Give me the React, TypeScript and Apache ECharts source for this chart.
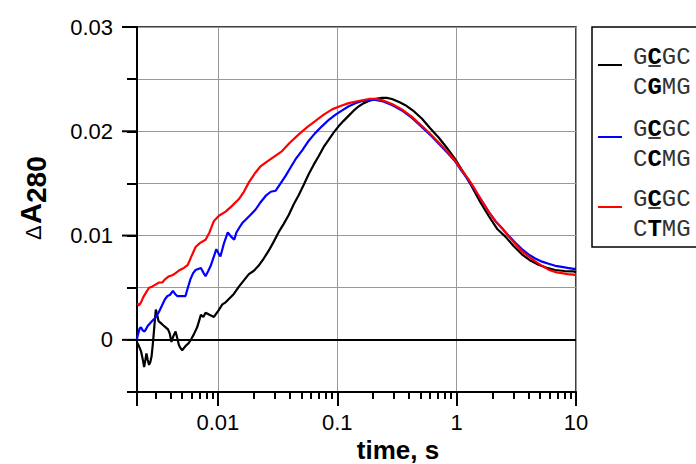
import React, { useEffect, useRef } from "react";
import * as echarts from "echarts";

// ---- data (time in s, ΔA280) ----
const tBlack = [0.00209,0.00218,0.00227,0.00234,0.00241,0.00247,0.00252,0.00258,0.00265,0.00272,0.00278,0.00285,0.0029,0.00296,0.00302,0.0031,0.00318,0.00333,0.00348,0.00365,0.00382,0.00395,0.00408,0.00425,0.00442,0.00456,0.00471,0.00487,0.00502,0.00535,0.0057,0.006,0.00627,0.0067,0.0072,0.00755,0.00788,0.0085,0.00926,0.0101,0.0109,0.0116,0.0123,0.0136,0.015,0.0165,0.01817,0.0199,0.0219,0.0242,0.0265,0.029,0.0322,0.0355,0.0393,0.0432,0.0476,0.0525,0.0577,0.0635,0.0698,0.077,0.0849,0.0935,0.1029,0.113,0.1248,0.1377,0.1516,0.167,0.1836,0.21,0.237,0.26,0.287,0.33,0.372,0.44,0.513,0.6,0.707,0.83,0.975,1.15,1.34,1.58,1.85,2.2,2.56,3.0,3.52,4.15,4.85,5.7,6.7,8.0,9.53,10];
const aBlack = [-0.0002,-0.0006,-0.0011,-0.0018,-0.0026,-0.0019,-0.0013,-0.0019,-0.0024,-0.0021,-0.0016,-0.0004,0.0006,0.0018,0.0029,0.0024,0.0018,0.0016,0.0014,0.0012,0.001,0.0006,-0.0002,0.0004,0.0008,0.0002,-0.0005,-0.0008,-0.001,-0.0006,-0.0003,0.0001,0.0005,0.0012,0.0024,0.0022,0.0026,0.0024,0.0022,0.0028,0.0034,0.0036,0.0039,0.0044,0.0051,0.0057,0.0063,0.0066,0.0071,0.0078,0.0085,0.0093,0.0103,0.0111,0.012,0.013,0.0139,0.0149,0.0159,0.0168,0.0176,0.0185,0.0192,0.0199,0.0205,0.021,0.0215,0.022,0.0224,0.0227,0.0229,0.0231,0.0232,0.0232,0.0231,0.0228,0.0225,0.0219,0.0212,0.0203,0.0194,0.0184,0.0173,0.016,0.0147,0.0132,0.0119,0.0106,0.0099,0.009,0.0082,0.0076,0.0072,0.0069,0.0067,0.0066,0.00657,0.0065];

const tBlue = [0.00209,0.00215,0.00221,0.00227,0.00235,0.00243,0.00249,0.00257,0.00266,0.00281,0.00298,0.00318,0.0034,0.0036,0.00378,0.00396,0.0042,0.00438,0.00456,0.0049,0.00535,0.0056,0.00588,0.0062,0.0065,0.0072,0.0076,0.00788,0.0083,0.0087,0.0092,0.0097,0.0101,0.0105,0.0112,0.0121,0.0129,0.0137,0.0143,0.015,0.016,0.017,0.0188,0.0207,0.0228,0.0251,0.0277,0.0305,0.0335,0.0368,0.0405,0.0446,0.051,0.0577,0.065,0.0747,0.085,0.0968,0.11,0.1248,0.142,0.1615,0.185,0.209,0.237,0.29,0.348,0.42,0.513,0.62,0.753,0.86,0.975,1.1,1.26,1.43,1.63,1.85,2.11,2.4,2.72,3.1,3.52,4.0,4.55,5.2,5.89,6.7,7.6,8.5,9.53,10];
const aBlue = [0.0,0.0006,0.0011,0.0012,0.0009,0.0008,0.001,0.0013,0.0015,0.0018,0.0021,0.0026,0.0033,0.0039,0.0042,0.0043,0.0047,0.0044,0.0042,0.0042,0.0042,0.005,0.0058,0.0064,0.0067,0.0069,0.0064,0.0061,0.0066,0.0071,0.0079,0.0087,0.0083,0.008,0.0092,0.0103,0.0099,0.0096,0.0103,0.0107,0.0112,0.0115,0.012,0.0125,0.0132,0.0138,0.0142,0.0143,0.015,0.0157,0.0165,0.0173,0.0182,0.0191,0.0198,0.0205,0.0211,0.0216,0.022,0.0224,0.0227,0.0229,0.023,0.023,0.0229,0.0225,0.022,0.0213,0.0204,0.0195,0.0185,0.0178,0.0171,0.0162,0.0153,0.0143,0.0133,0.0123,0.0114,0.0107,0.01,0.0093,0.0087,0.0082,0.0078,0.0075,0.0073,0.0071,0.007,0.0069,0.0068,0.0068];

const tRed = [0.00211,0.00218,0.00227,0.00237,0.00249,0.00265,0.0028,0.003,0.00322,0.00342,0.0036,0.0039,0.00415,0.00442,0.0048,0.00519,0.0056,0.006,0.0065,0.0071,0.00788,0.0085,0.00926,0.0102,0.0116,0.013,0.015,0.0165,0.01817,0.0205,0.0226,0.0251,0.029,0.0345,0.04,0.0476,0.056,0.0657,0.077,0.0906,0.105,0.1248,0.15,0.1836,0.21,0.237,0.29,0.348,0.42,0.513,0.62,0.753,0.86,0.975,1.1,1.26,1.43,1.63,1.85,2.11,2.4,2.72,3.1,3.52,4.0,4.55,5.2,5.89,6.7,7.6,8.5,9.53,10];
const aRed = [0.0035,0.0033,0.0036,0.0041,0.0045,0.005,0.0051,0.0053,0.0055,0.0055,0.0058,0.0061,0.0062,0.0064,0.0067,0.0069,0.0072,0.008,0.0089,0.0093,0.0096,0.0103,0.0114,0.0119,0.0123,0.0128,0.0135,0.0142,0.0151,0.016,0.0166,0.017,0.0175,0.0181,0.0189,0.0197,0.0204,0.021,0.0216,0.0221,0.0224,0.0227,0.0229,0.0231,0.0231,0.023,0.0226,0.0221,0.0214,0.0205,0.0196,0.0186,0.0179,0.01715,0.0163,0.01538,0.0144,0.0133,0.0123,0.01138,0.0107,0.00994,0.0092,0.00849,0.008,0.00753,0.0071,0.00673,0.0065,0.0064,0.0063,0.00625,0.0062];

// major y ticks (drawn longer than the axis' own minor-length ticks)
const yMajorTicks = [0, 0.01, 0.02, 0.03];

const X_MIN = 0.0021;
const X_MAX = 10;
const Y_MIN = -0.005;
const Y_MAX = 0.03;

// legend entries
const legendEntries = [
  { color: "#000000", top: "G", topBold: "C", topRest: "GC", bot1: "C", botBold: "G", botRest: "MG" },
  { color: "#0000ff", top: "G", topBold: "C", topRest: "GC", bot1: "C", botBold: "C", botRest: "MG" },
  { color: "#ff0000", top: "G", topBold: "C", topRest: "GC", bot1: "C", botBold: "T", botRest: "MG" },
];

const zip = (t: number[], a: number[]) => t.map((v, i) => [v, a[i]]);

export default function App() {
  const ref = useRef<HTMLDivElement>(null);
  useEffect(() => {
    if (!ref.current) return;
    const chart = echarts.init(ref.current, undefined, { renderer: "svg" });

    const lineSeries = (name: string, color: string, data: number[][]) => ({
      name,
      type: "line",
      data,
      showSymbol: false,
      symbol: "none",
      lineStyle: { color, width: 2.2 },
      itemStyle: { color },
      z: 3,
    });

    const option: any = {
      animation: false,
      grid: {
        left: 137,
        top: 27,
        right: 120,
        bottom: 72,
        show: true,
        borderColor: "#000",
        borderWidth: 1.5,
      },
      xAxis: {
        type: "log",
        min: X_MIN,
        max: X_MAX,
        axisLine: { show: true, onZero: false, lineStyle: { color: "#000", width: 2 } },
        axisTick: { show: true, inside: false, length: 14, lineStyle: { color: "#000", width: 2 } },
        minorTick: { show: true, splitNumber: 9, length: 7, lineStyle: { color: "#000", width: 2 } },
        minorSplitLine: { show: false },
        splitLine: { show: true, lineStyle: { color: "#999", width: 1 } },
        axisLabel: {
          color: "#000",
          fontSize: 22,
          fontFamily: "Arial, 'Liberation Sans', sans-serif",
          margin: 19,
          showMinLabel: false,
          formatter: (v: number) => {
            const l = Math.log10(v);
            return Math.abs(l - Math.round(l)) < 1e-6 ? String(+Math.pow(10, Math.round(l)).toPrecision(3)) : "";
          },
        },
      },
      yAxis: {
        type: "value",
        min: Y_MIN,
        max: Y_MAX,
        interval: 0.005,
        axisLine: { show: true, onZero: false, lineStyle: { color: "#000", width: 2 } },
        axisTick: { show: true, inside: false, length: 10, lineStyle: { color: "#000", width: 2 } },
        splitLine: { show: true, lineStyle: { color: "#999", width: 1 } },
        axisLabel: {
          color: "#000",
          fontSize: 22,
          fontFamily: "Arial, 'Liberation Sans', sans-serif",
          margin: 24,
          formatter: (v: number) => {
            const h = v * 100;
            return Math.abs(h - Math.round(h)) < 1e-6 ? String(Math.round(h) / 100) : "";
          },
        },
      },
      series: [
        {
          ...lineSeries("GCGC/CGMG", "#000000", zip(tBlack, aBlack)),
          markLine: {
            silent: true,
            symbol: "none",
            label: { show: false },
            lineStyle: { color: "#000", width: 2, type: "solid" },
            data: [{ yAxis: 0 }],
            z: 2,
          },
        },
        lineSeries("GCGC/CCMG", "#0000ff", zip(tBlue, aBlue)),
        lineSeries("GCGC/CTMG", "#ff0000", zip(tRed, aRed)),
      ],
    };
    chart.setOption(option);

    const graphics: any[] = [];

    // longer major ticks on the y axis, positioned through the chart's own scales
    yMajorTicks.forEach((v) => {
      const p = chart.convertToPixel({ xAxisIndex: 0, yAxisIndex: 0 }, [X_MIN, v]) as number[];
      graphics.push({
        type: "rect",
        z: 100,
        shape: { x: p[0] - 15, y: p[1] - 1, width: 15, height: 2 },
        style: { fill: "#000" },
      });
    });

    // legend
    const monoFont = '"Courier New", "Liberation Mono", monospace';
    const FS = 24;
    const CW = FS * 0.6;
    const LX = 633;
    graphics.push({
      type: "rect",
      shape: { x: 592, y: 27, width: 120, height: 220 },
      style: { fill: "#fff", stroke: "#000", lineWidth: 1.5 },
    });
    legendEntries.forEach((e, i) => {
      const off = [0, 72, 142][i];
      const cy1 = 57 + off;
      const cy2 = 87 + off;
      graphics.push({
        type: "line",
        shape: { x1: 598, y1: 65 + off, x2: 622, y2: 65 + off },
        style: { stroke: e.color, lineWidth: 2 },
      });
      const rich = {
        n: { fontFamily: monoFont, fontSize: FS, fontWeight: "normal", fill: "#333" },
        b: { fontFamily: monoFont, fontSize: FS, fontWeight: "bold", fill: "#000" },
      };
      graphics.push({
        type: "text",
        style: { text: `{n|${e.top}}{b|${e.topBold}}{n|${e.topRest}}`, x: LX, y: cy1, verticalAlign: "middle", align: "left", rich },
      });
      graphics.push({
        type: "text",
        style: { text: `{n|${e.bot1}}{b|${e.botBold}}{n|${e.botRest}}`, x: LX, y: cy2, verticalAlign: "middle", align: "left", rich },
      });
      graphics.push({
        type: "line",
        shape: { x1: LX + CW + 1, y1: cy1 + 9, x2: LX + 2 * CW - 1, y2: cy1 + 9 },
        style: { stroke: "#000", lineWidth: 1.5 },
      });
    });

    // axis titles
    graphics.push({
      type: "text",
      style: {
        text: "time, s",
        x: 398,
        y: 450,
        align: "center",
        verticalAlign: "middle",
        font: "bold 26px Arial, 'Liberation Sans', sans-serif",
        fill: "#000",
      },
    });
    graphics.push({
      type: "group",
      x: 40,
      y: 240,
      rotation: Math.PI / 2,
      children: [
        { type: "text", style: { text: "Δ", x: 0, y: -7, align: "left", verticalAlign: "middle", font: "normal 22px Arial, 'Liberation Sans', sans-serif", fill: "#000" } },
        { type: "text", style: { text: "A", x: 16, y: -9, align: "left", verticalAlign: "middle", font: "bold 29px Arial, 'Liberation Sans', sans-serif", fill: "#000" } },
        { type: "text", style: { text: "280", x: 37, y: -4, align: "left", verticalAlign: "middle", font: "bold 28px Arial, 'Liberation Sans', sans-serif", fill: "#000" } },
      ],
    });

    chart.setOption({ graphic: graphics });

    return () => chart.dispose();
  }, []);
  return (
    <div
      ref={ref}
      style={{ position: "fixed", left: 0, top: 0, width: 696, height: 464, background: "#fff" }}
    />
  );
}
